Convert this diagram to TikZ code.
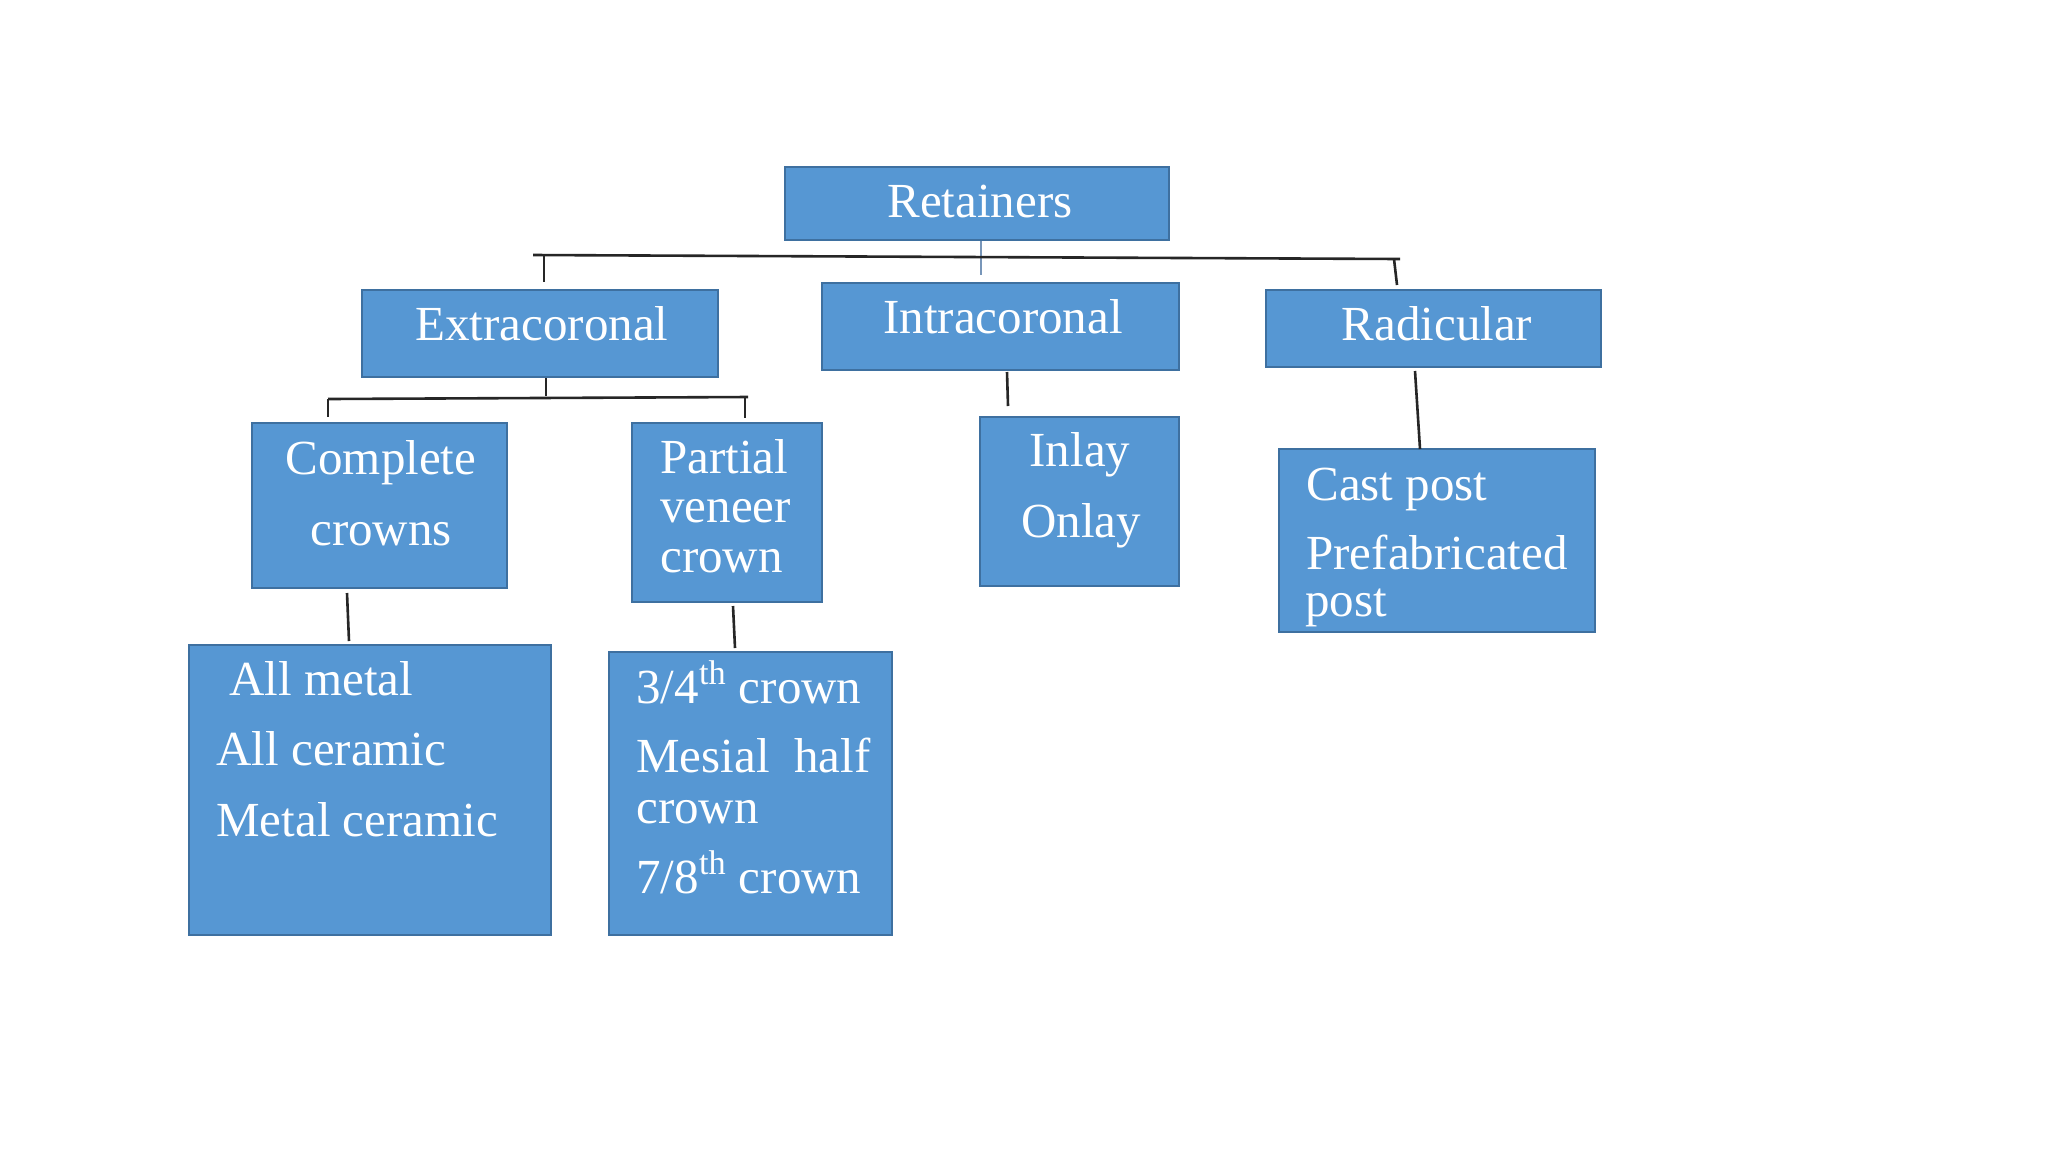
\documentclass[tikz,border=0pt]{standalone}
\usepackage{fontspec}
\setmainfont{Liberation Serif}
\usetikzlibrary{fit}
\definecolor{boxfill}{RGB}{86,151,211}
\definecolor{boxline}{RGB}{62,112,160}
\definecolor{thinline}{RGB}{120,150,185}
\tikzset{
  box/.style={draw=boxline, fill=boxfill, line width=1pt, inner sep=0pt},
  lbl/.style={text=white, inner sep=0pt, font=\fontsize{24.5}{29}\selectfont},
  cl/.style={lbl, anchor=base},
  ll/.style={lbl, anchor=base west},
  conn/.style={draw=black!85, line width=1.3pt},
}
\begin{document}
\begin{tikzpicture}[x=0.5pt,y=-0.5pt]
\useasboundingbox[fill=white] (0,0) rectangle (2048,1152);
% boxes
\node[box, fit={(785,167) (1169,240)}] (ret) {};
\node[box, fit={(362,290) (718,377)}] (ext) {};
\node[box, fit={(822,283) (1179,370)}] (intra) {};
\node[box, fit={(1266,290) (1601,367)}] (rad) {};
\node[box, fit={(252,423) (507,588)}] (comp) {};
\node[box, fit={(632,423) (822,602)}] (part) {};
\node[box, fit={(980,417) (1179,586)}] (inlay) {};
\node[box, fit={(1279,449) (1595,632)}] (cast) {};
\node[box, fit={(189,645) (551,935)}] (allm) {};
\node[box, fit={(609,652) (892,935)}] (frac) {};
% labels
\node[cl] (tret) at (980,217) {Retainers};
\node[cl] (text) at (542,340) {Extracoronal};
\node[cl] (tintra) at (1003,333) {Intracoronal};
\node[cl] (trad) at (1437,340) {Radicular};
\node[cl] (tcomp1) at (381,474) {Complete};
\node[cl] (tcomp2) at (381,545) {crowns};
\node[ll] (tpart1) at (660,473) {Partial};
\node[ll] (tpart2) at (660,522) {veneer};
\node[ll] (tpart3) at (660,572) {crown};
\node[cl] (tinl1) at (1080,466) {Inlay};
\node[cl] (tinl2) at (1081,537) {Onlay};
\node[ll] (tcast1) at (1306,500) {Cast post};
\node[ll] (tcast2) at (1306,569) {Prefabricated};
\node[ll] (tcast3) at (1305,616) {post};
\node[ll] (tall1) at (229,695) {All metal};
\node[ll] (tall2) at (216,765) {All ceramic};
\node[ll] (tall3) at (216,836) {Metal ceramic};
\node[ll] (tfr1) at (636,703) {3/4\textsuperscript{th} crown};
\node[ll] (tfr2) at (636,772) {Mesial\ \ half};
\node[ll] (tfr3) at (636,823) {crown};
\node[ll] (tfr4) at (636,893) {7/8\textsuperscript{th} crown};
% connector coordinates
\coordinate (mret0) at (981,241);
\coordinate (mret) at (981,275);
\coordinate (m1) at (533,255);
\coordinate (m2) at (1400,259);
\coordinate (dext1) at (544,256);
\coordinate (dext2) at (544,282);
\coordinate (drad1) at (1394,259);
\coordinate (drad2) at (1397,285);
\coordinate (e00) at (546,378);
\coordinate (e0) at (546,396);
\coordinate (e1) at (328,399);
\coordinate (e2) at (748,397);
\coordinate (ec1) at (328,417);
\coordinate (ep1) at (745,397);
\coordinate (ep2) at (745,418);
\coordinate (i1) at (1007,372);
\coordinate (i2) at (1008,406);
\coordinate (r1) at (1415,371);
\coordinate (r2) at (1420,449);
\coordinate (c1) at (347,593);
\coordinate (c2) at (349,641);
\coordinate (p1) at (733,606);
\coordinate (p2) at (735,648);
% connectors
\draw[draw=thinline, line width=0.6pt] (mret0) -- (mret);
\draw[conn] (m1) -- (m2);
\draw[conn] (dext1) -- (dext2);
\draw[conn] (drad1) -- (drad2);
\draw[conn] (e00) -- (e0);
\draw[conn] (e1) -- (e2);
\draw[conn] (e1) -- (ec1);
\draw[conn] (ep1) -- (ep2);
\draw[conn] (i1) -- (i2);
\draw[conn] (r1) -- (r2);
\draw[conn] (c1) -- (c2);
\draw[conn] (p1) -- (p2);
\end{tikzpicture}
\end{document}
